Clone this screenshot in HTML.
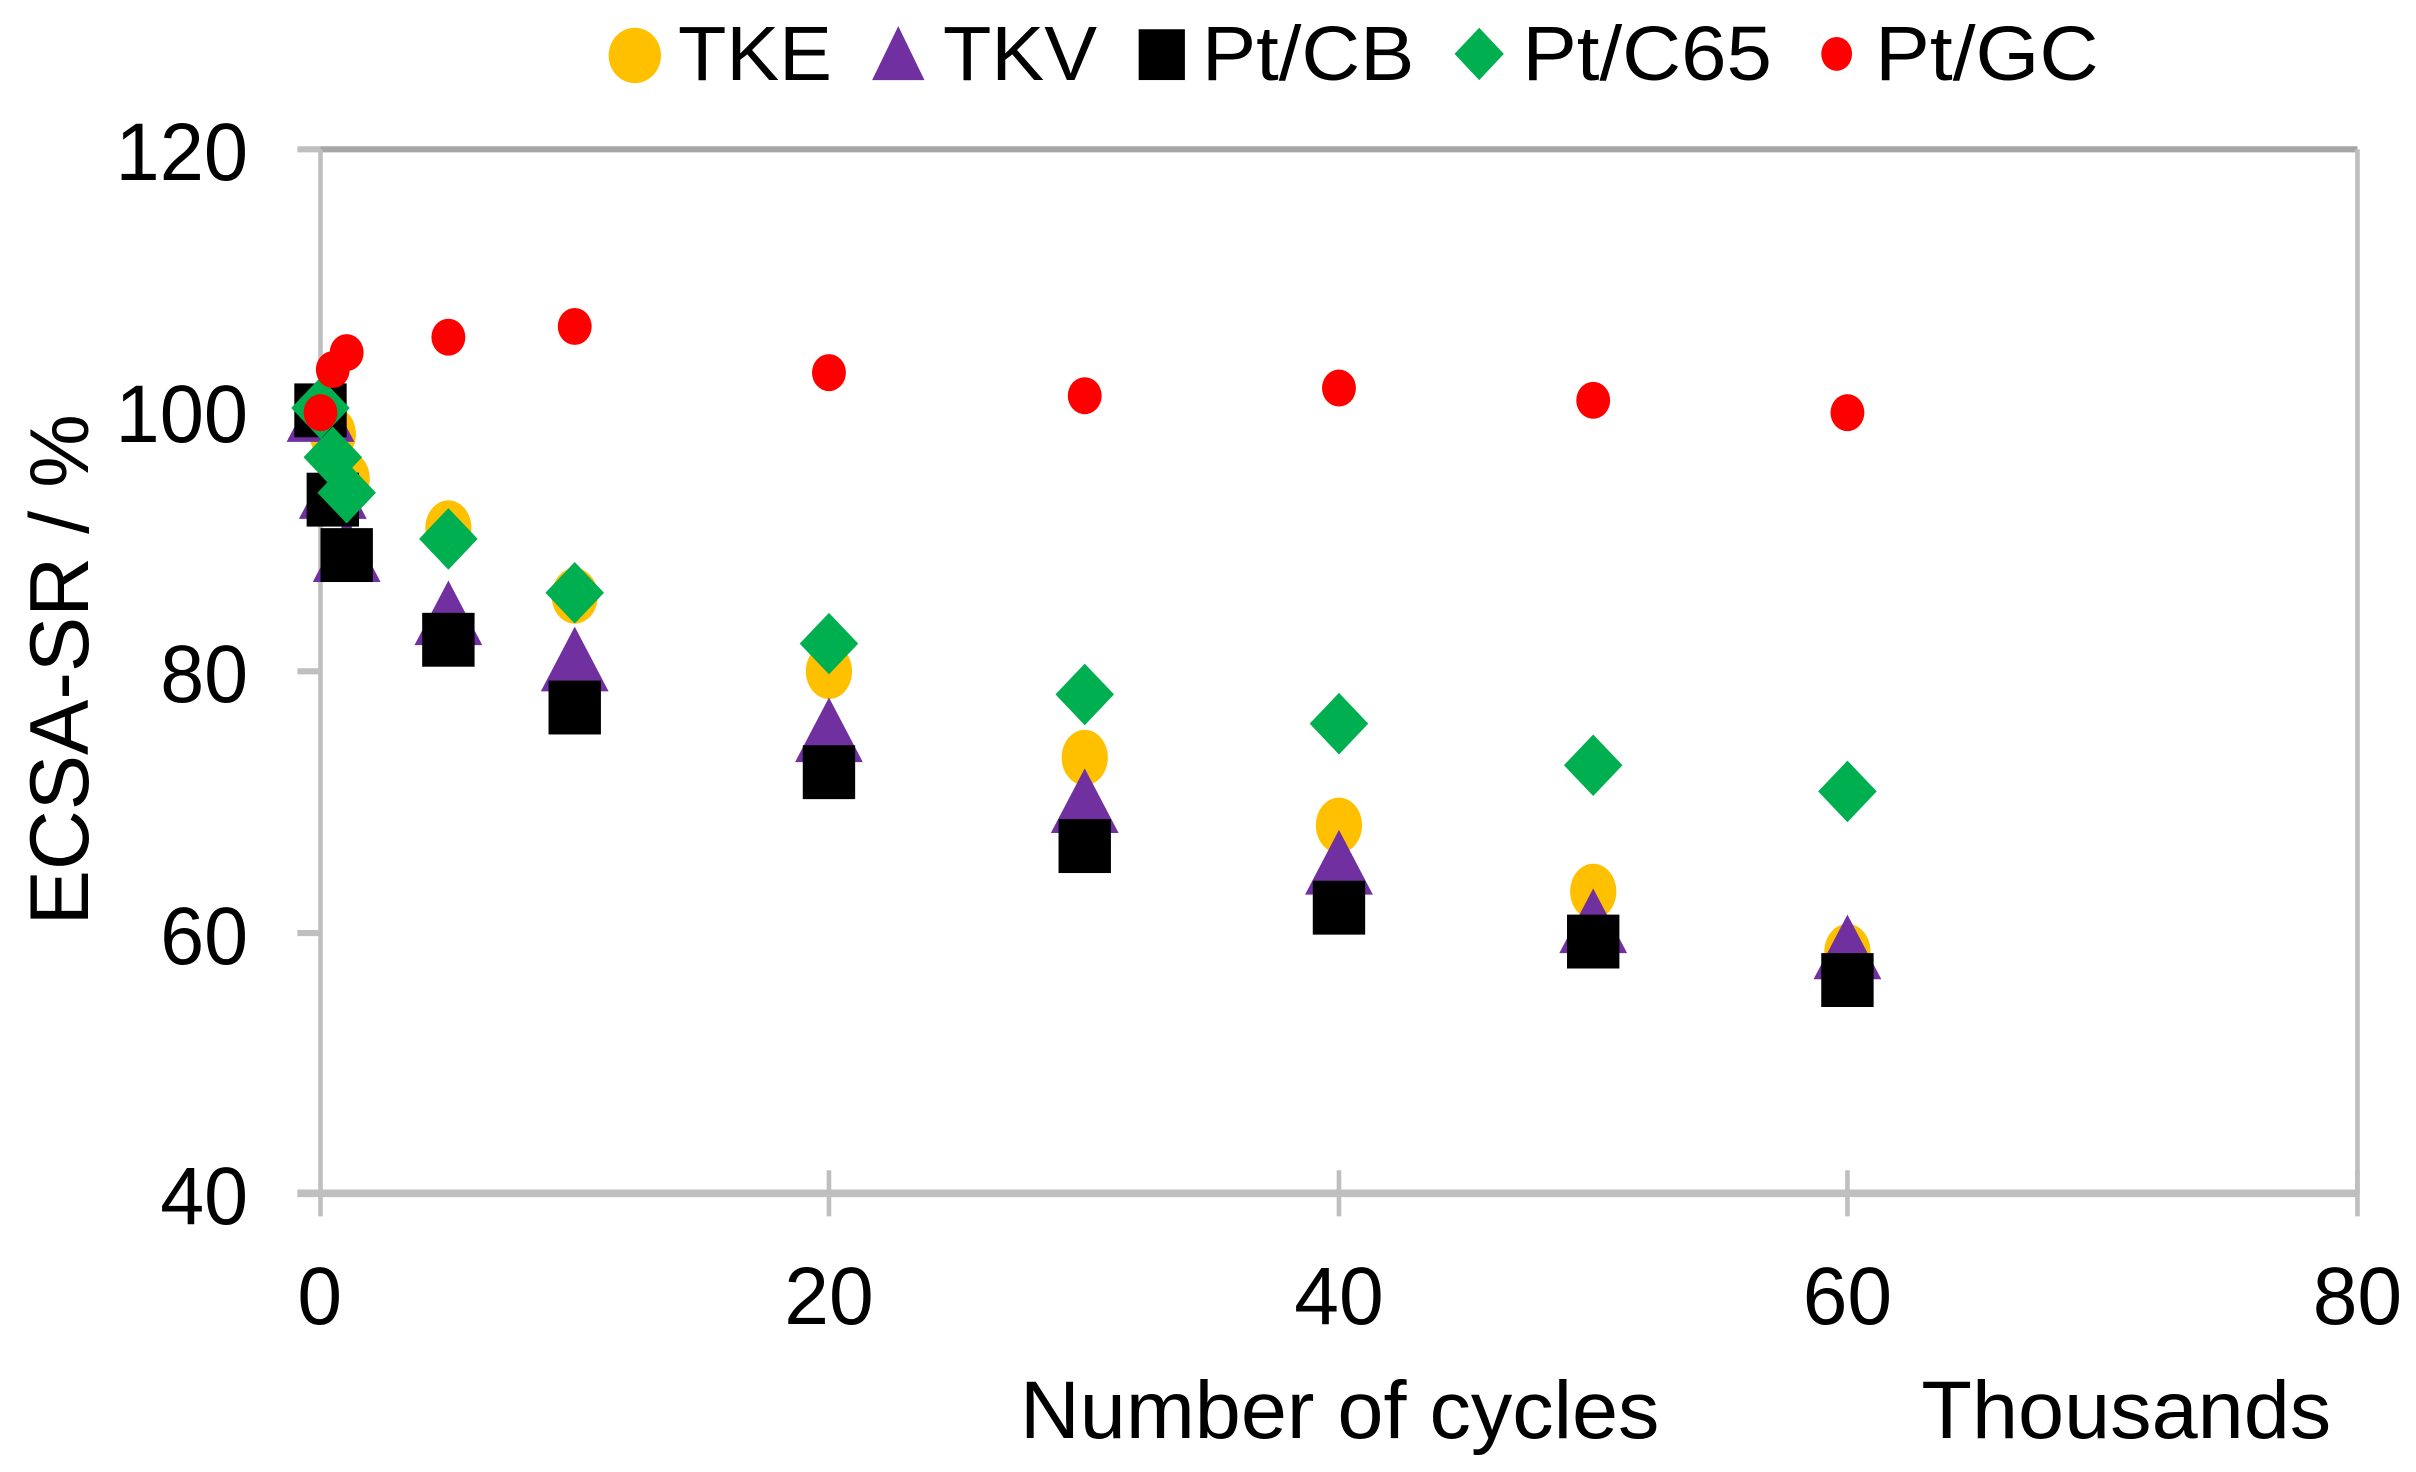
<!DOCTYPE html>
<html><head><meta charset="utf-8"><style>html,body{margin:0;padding:0;background:#fff}svg{display:block}</style></head>
<body>
<svg width="2416" height="1472" viewBox="0 0 1568 956" preserveAspectRatio="none" xmlns="http://www.w3.org/2000/svg" font-family="Liberation Sans, sans-serif">
<rect width="1568" height="956" fill="#fff"/>
<line x1="208" y1="97" x2="1530" y2="97" stroke="#a6a6a6" stroke-width="4"/>
<line x1="1530" y1="97" x2="1530" y2="775" stroke="#bfbfbf" stroke-width="3"/>
<line x1="208" y1="97" x2="208" y2="790" stroke="#bfbfbf" stroke-width="3"/>
<line x1="193" y1="775" x2="1530" y2="775" stroke="#bfbfbf" stroke-width="5"/>
<g stroke="#bfbfbf" stroke-width="4">
<line x1="193" y1="97" x2="208" y2="97"/><line x1="193" y1="267" x2="208" y2="267"/><line x1="193" y1="436" x2="208" y2="436"/><line x1="193" y1="606" x2="208" y2="606"/>
</g>
<g stroke="#bfbfbf" stroke-width="3">
<line x1="538" y1="760" x2="538" y2="790"/><line x1="869" y1="760" x2="869" y2="790"/><line x1="1199" y1="760" x2="1199" y2="790"/><line x1="1530" y1="760" x2="1530" y2="790"/>
</g>
<g font-size="53" text-anchor="end" fill="#000" lengthAdjust="spacingAndGlyphs">
<text x="161" y="117" textLength="86" lengthAdjust="spacingAndGlyphs">120</text><text x="161" y="287" textLength="86" lengthAdjust="spacingAndGlyphs">100</text><text x="161" y="456" textLength="57" lengthAdjust="spacingAndGlyphs">80</text><text x="161" y="626" textLength="57" lengthAdjust="spacingAndGlyphs">60</text><text x="161" y="795" textLength="57" lengthAdjust="spacingAndGlyphs">40</text>
</g>
<g font-size="53" fill="#000">
<text x="193" y="860" textLength="29" lengthAdjust="spacingAndGlyphs">0</text><text x="509" y="860" textLength="58" lengthAdjust="spacingAndGlyphs">20</text><text x="840" y="860" textLength="58" lengthAdjust="spacingAndGlyphs">40</text><text x="1170" y="860" textLength="58" lengthAdjust="spacingAndGlyphs">60</text><text x="1501" y="860" textLength="58" lengthAdjust="spacingAndGlyphs">80</text>
</g>
<text x="662" y="934" font-size="53" textLength="415" lengthAdjust="spacingAndGlyphs">Number of cycles</text>
<text x="1247" y="934" font-size="53" textLength="266" lengthAdjust="spacingAndGlyphs">Thousands</text>
<text transform="translate(57,435) rotate(-90)" font-size="54" text-anchor="middle" textLength="332" lengthAdjust="spacingAndGlyphs">ECSA-SR / %</text>
<!-- legend -->
<ellipse cx="412" cy="36" rx="17" ry="18" fill="#ffc000"/>
<text x="440" y="52" font-size="50" textLength="100" lengthAdjust="spacingAndGlyphs">TKE</text>
<polygon points="583,17 600,52 566,52" fill="#7030a0"/>
<text x="612" y="52" font-size="50" textLength="100" lengthAdjust="spacingAndGlyphs">TKV</text>
<rect x="739" y="19" width="30" height="33" fill="#000"/>
<text x="780" y="52" font-size="50" textLength="138" lengthAdjust="spacingAndGlyphs">Pt/CB</text>
<polygon points="960,18 976,35 960,52 944,35" fill="#00b050"/>
<text x="988" y="52" font-size="50" textLength="162" lengthAdjust="spacingAndGlyphs">Pt/C65</text>
<ellipse cx="1192" cy="35" rx="10" ry="11" fill="#ff0000"/>
<text x="1217" y="52" font-size="50" textLength="145" lengthAdjust="spacingAndGlyphs">Pt/GC</text>
<g fill="#ffc000">
<ellipse cx="208" cy="267" rx="15" ry="18"/><ellipse cx="216" cy="282" rx="15" ry="18"/><ellipse cx="225" cy="311" rx="15" ry="18"/><ellipse cx="291" cy="343" rx="15" ry="18"/><ellipse cx="373" cy="387" rx="15" ry="18"/><ellipse cx="538" cy="436" rx="15" ry="18"/><ellipse cx="704" cy="492" rx="15" ry="18"/><ellipse cx="869" cy="536" rx="15" ry="18"/><ellipse cx="1034" cy="579" rx="15" ry="18"/><ellipse cx="1199" cy="618" rx="15" ry="18"/>
</g>
<g fill="#7030a0">
<polygon points="208,245 230,287 186,287"/><polygon points="216,295 238,337 194,337"/><polygon points="225,336 247,378 203,378"/><polygon points="291,377 313,419 269,419"/><polygon points="373,407 395,449 351,449"/><polygon points="538,453 560,495 516,495"/><polygon points="704,499 726,541 682,541"/><polygon points="869,539 891,581 847,581"/><polygon points="1034,577 1056,619 1012,619"/><polygon points="1199,594 1221,636 1177,636"/>
</g>
<g fill="#000">
<rect x="191" y="249" width="34" height="35"/><rect x="199" y="307" width="34" height="35"/><rect x="208" y="343" width="34" height="35"/><rect x="274" y="398" width="34" height="35"/><rect x="356" y="442" width="34" height="35"/><rect x="521" y="484" width="34" height="35"/><rect x="687" y="532" width="34" height="35"/><rect x="852" y="572" width="34" height="35"/><rect x="1017" y="594" width="34" height="35"/><rect x="1182" y="619" width="34" height="35"/>
</g>
<g fill="#00b050">
<polygon points="208,245 227,265 208,285 189,265"/><polygon points="216,277 235,297 216,317 197,297"/><polygon points="225,300 244,320 225,340 206,320"/><polygon points="291,330 310,350 291,370 272,350"/><polygon points="373,365 392,385 373,405 354,385"/><polygon points="538,398 557,418 538,438 519,418"/><polygon points="704,431 723,451 704,471 685,451"/><polygon points="869,450 888,470 869,490 850,470"/><polygon points="1034,477 1053,497 1034,517 1015,497"/><polygon points="1199,494 1218,514 1199,534 1180,514"/>
</g>
<g fill="#ff0000">
<ellipse cx="208" cy="268" rx="11" ry="12"/><ellipse cx="216" cy="240" rx="11" ry="12"/><ellipse cx="225" cy="229" rx="11" ry="12"/><ellipse cx="291" cy="219" rx="11" ry="12"/><ellipse cx="373" cy="212" rx="11" ry="12"/><ellipse cx="538" cy="242" rx="11" ry="12"/><ellipse cx="704" cy="257" rx="11" ry="12"/><ellipse cx="869" cy="252" rx="11" ry="12"/><ellipse cx="1034" cy="260" rx="11" ry="12"/><ellipse cx="1199" cy="268" rx="11" ry="12"/>
</g>
</svg>
</body></html>
